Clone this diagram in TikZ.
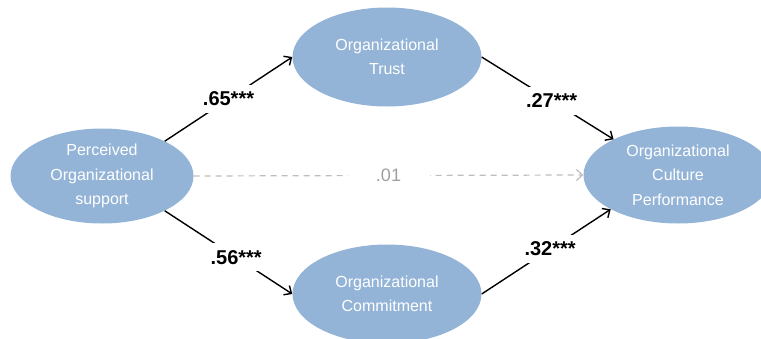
\documentclass[tikz,border=0pt]{standalone}
\usepackage{fontspec}
\setmainfont{Liberation Sans}
\usetikzlibrary{shapes.geometric,arrows.meta}
\definecolor{varblue}{HTML}{93B4D7}
\definecolor{dashgray}{HTML}{BDBDBD}
\definecolor{numgray}{HTML}{A0A0A0}
\begin{document}
\begin{tikzpicture}[x=1pt,y=-1pt,
  var/.style={ellipse,fill=varblue,text=white,align=center,inner sep=0pt,
    minimum width=189pt,minimum height=99pt,font=\fontsize{16}{24.5}\selectfont},
  coef/.style={fill=white,inner sep=7pt,font=\fontsize{20}{20}\selectfont\bfseries},
  link/.style={->,line width=1.4pt},
  >={Straight Barb[length=6pt,width=11pt]}]
\useasboundingbox (0,0) rectangle (761,338);
\node[var,minimum width=183pt,minimum height=95pt] (por) at (102,176) {Perceived\\Organizational\\support};
\node[var] (trust) at (387,57) {Organizational\\Trust};
\node[var] (commit) at (387,294) {Organizational\\Commitment};
\node[var,minimum height=97pt] (perf) at (678,175) {Organizational\\Culture\\Performance};
\draw[link] (por.29) -- node[coef,pos=.5]{.65***} (trust.west);
\draw[link] (por.-29) -- node[coef,pos=.56]{.56***} (commit.west);
\draw[link] (trust.east) -- node[coef,pos=.53]{.27***} (perf.151);
\draw[link] (commit.east) -- node[coef,pos=.53]{.32***} (perf.207);
\draw[->,dashgray,line width=1.2pt,dash pattern=on 6pt off 5pt] (por.east) -- node[fill=white,text=numgray,minimum width=82pt,font=\fontsize{18}{18}\selectfont]{.01} (perf.west);
\end{tikzpicture}
\end{document}
